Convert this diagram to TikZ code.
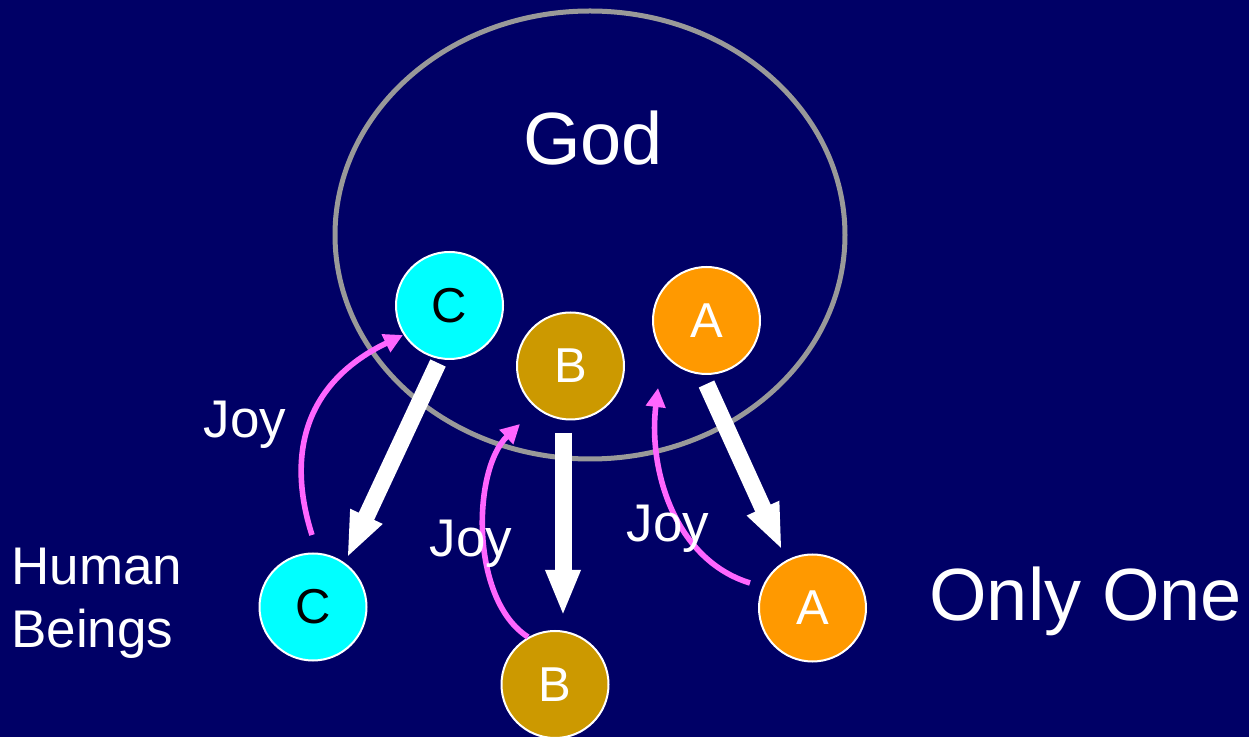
\documentclass[tikz,border=0pt]{standalone}
\usepackage{fontspec}
\setmainfont{Liberation Sans}
\usetikzlibrary{arrows.meta}
\definecolor{bg}{HTML}{000066}
\definecolor{ring}{HTML}{999999}
\definecolor{cyanball}{HTML}{00FFFF}
\definecolor{bball}{HTML}{CC9900}
\definecolor{aball}{HTML}{FF9900}
\definecolor{joyline}{HTML}{FF66FF}
\tikzset{
  ball/.style={circle, draw=white, line width=1pt, minimum size=53.5pt, inner sep=0pt,
    font=\fontsize{24.5}{28}\selectfont},
  cball/.style={ball, fill=cyanball, text=black},
  bballs/.style={ball, fill=bball, text=white},
  aballs/.style={ball, fill=aball, text=white},
  bigarrow/.style={draw=white, line width=8.5pt, line cap=butt,
    -{Triangle[width=16pt,length=23pt]}},
  joyarrow/.style={draw=joyline, line width=2.8pt,
    -{Triangle[width=9.5pt,length=9.5pt]}},
  lbl/.style={text=white, inner sep=0pt, anchor=base, font=\fontsize{26.5}{30}\selectfont},
}
\begin{document}
\begin{tikzpicture}[x=0.5pt,y=-0.5pt]
\fill[bg] (0,0) rectangle (1249,737);
\useasboundingbox (0,0) rectangle (1249,737);
% God ring
\draw[ring, line width=2.5pt] (590,235) ellipse [x radius=255, y radius=224];
\node[text=white, inner sep=0pt, anchor=base, font=\fontsize{37}{42}\selectfont] (god) at (593,165) {God};
% balls
\node[cball]  (Ct) at (449.5,305.5) {C};
\node[bballs] (Bt) at (570.5,366) {B};
\node[aballs] (At) at (706.5,320.5) {A};
\node[cball]  (Cb) at (313,607) {C};
\node[bballs] (Bb) at (555,684.5) {B};
\node[aballs] (Ab) at (812.5,608) {A};
% big arrow ends
\coordinate (c1) at (438,363);
\coordinate (c2) at (347,558);
\coordinate (b1) at (563,433);
\coordinate (b2) at (563,616);
\coordinate (a1) at (706.5,384);
\coordinate (a2) at (782,550);
\draw[bigarrow] (c1) -- (c2);
\draw[bigarrow] (b1) -- (b2);
\draw[bigarrow] (a1) -- (a2);
% joy arrow ends
\coordinate (jc1) at (312,535);
\coordinate (jc2) at (403,335);
\coordinate (jb1) at (528,637);
\coordinate (jb2) at (520,424);
\coordinate (ja1) at (750,583);
\coordinate (ja2) at (658,388);
\draw[joyarrow] (jc1) .. controls (288,460) and (300,385) .. (jc2);
\draw[joyarrow] (jb1) .. controls (470,600) and (472,470) .. (jb2);
\draw[joyarrow] (ja1) .. controls (675,560) and (648,470) .. (ja2);
% labels
\node[lbl] (joy1) at (245,438) {Joy};
\node[lbl] (joy2) at (471,557) {Joy};
\node[lbl] (joy3) at (668,542) {Joy};
\node[lbl, anchor=base west] (hum1) at (11,585) {Human};
\node[lbl, anchor=base west] (hum2) at (11,648) {Beings};
\node[lbl, anchor=base west, font=\fontsize{37}{42}\selectfont] (one) at (929,621) {Only One};
\end{tikzpicture}
\end{document}
